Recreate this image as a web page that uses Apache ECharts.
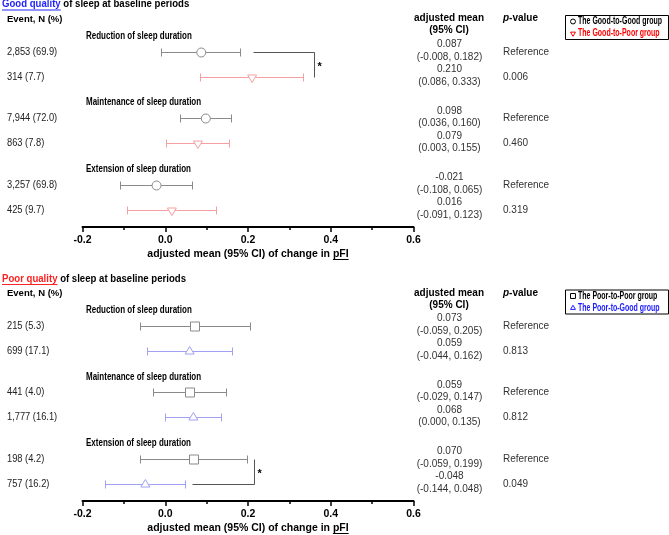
<!DOCTYPE html>
<html><head><meta charset="utf-8">
<script src="https://cdn.jsdelivr.net/npm/echarts@6/dist/echarts.min.js"></script>
<style>html,body{margin:0;padding:0;background:#fff}#c{width:669px;height:535px}</style>
</head><body><div id="c"></div>
<script>
// ---------- data ----------
const sections = ['Reduction of sleep duration', 'Maintenance of sleep duration', 'Extension of sleep duration'];
const xTicks = [-0.2, 0.0, 0.2, 0.4, 0.6];
const axisTitle = ['adjusted mean (95% CI) of change in ', 'pFI'];
const colHeaders = ['Event, N (%)', 'adjusted mean', '(95% CI)', 'p', '-value'];

const goodTitle = ['Good quality', ' of sleep at baseline periods'];
const goodGroups = ['The Good-to-Good group', 'The Good-to-Poor group'];
const goodEvents = ['2,853 (69.9)', '314 (7.7)', '7,944 (72.0)', '863 (7.8)', '3,257 (69.8)', '425 (9.7)'];
const goodMean = [0.087, 0.210, 0.098, 0.079, -0.021, 0.016];
const goodLow = [-0.008, 0.086, 0.036, 0.003, -0.108, -0.091];
const goodHigh = [0.182, 0.333, 0.160, 0.155, 0.065, 0.123];
const goodP = ['Reference', '0.006', 'Reference', '0.460', 'Reference', '0.319'];
const goodSig = [0, 1, 0.214, 0.361];   // row with horizontal, other row, start x, bracket x

const poorTitle = ['Poor quality', ' of sleep at baseline periods'];
const poorGroups = ['The Poor-to-Poor group', 'The Poor-to-Good group'];
const poorEvents = ['215 (5.3)', '699 (17.1)', '441 (4.0)', '1,777 (16.1)', '198 (4.2)', '757 (16.2)'];
const poorMean = [0.073, 0.059, 0.059, 0.068, 0.070, -0.048];
const poorLow = [-0.059, -0.044, -0.029, 0.000, -0.059, -0.144];
const poorHigh = [0.205, 0.162, 0.147, 0.135, 0.199, 0.048];
const poorP = ['Reference', '0.813', 'Reference', '0.812', 'Reference', '0.049'];
const poorSig = [5, 4, 0.067, 0.216];

// ---------- layout / style ----------
const SANS = "'Liberation Sans', Arial, Helvetica, sans-serif";
const NARROW_SCALE = 0.8;
const OFF = 274.5;
const STEP = 2.66;
function rowY(i) { return Math.floor(i / 2) * STEP + (i % 2); }
function crisp(v) { return Math.round(v - 0.5) + 0.5; }

const panels = [
  { title: goodTitle, titleColor: '#1f1fff', groups: goodGroups, events: goodEvents, mean: goodMean, low: goodLow, high: goodHigh, p: goodP, sig: goodSig,
    shapes: ['circle', 'triDown'], colors: ['#8a8a8a', '#f4a0a0'], legendColors: ['#000000', '#ff0000'] },
  { title: poorTitle, titleColor: '#ff1f1f', groups: poorGroups, events: poorEvents, mean: poorMean, low: poorLow, high: poorHigh, p: poorP, sig: poorSig,
    shapes: ['square', 'triUp'], colors: ['#8a8a8a', '#a0a0f4'], legendColors: ['#000000', '#1a1aff'] }
];

function markerEl(shape, x, y, color, s) {
  s = s || 1;
  const st = { fill: '#fff', stroke: color, lineWidth: 1 };
  if (shape === 'circle') return { type: 'circle', shape: { cx: x, cy: y, r: 4.5 * s }, style: st };
  if (shape === 'square') return { type: 'rect', shape: { x: crisp(x - 4.5 * s), y: y - 4.5 * s, width: 9 * s, height: 9 * s }, style: st };
  if (shape === 'triDown') return { type: 'polygon', shape: { points: [[x - 4.5 * s, y - 2.5 * s], [x + 4.5 * s, y - 2.5 * s], [x, y + 5 * s]] }, style: st };
  return { type: 'polygon', shape: { points: [[x - 4.5 * s, y + 2.5 * s], [x + 4.5 * s, y + 2.5 * s], [x, y - 5 * s]] }, style: st };
}
function groupRender(shape, color) {
  return function (params, api) {
    const yv = api.value(3);
    const c = api.coord([api.value(0), yv]);
    const lo = api.coord([api.value(1), yv]);
    const hi = api.coord([api.value(2), yv]);
    const y = crisp(c[1]);
    const xl = crisp(lo[0]), xh = crisp(hi[0]);
    const ls = { stroke: color, lineWidth: 1 };
    return { type: 'group', children: [
      { type: 'line', shape: { x1: xl, y1: y, x2: xh, y2: y }, style: ls },
      { type: 'line', shape: { x1: xl, y1: y - 4, x2: xl, y2: y + 4 }, style: ls },
      { type: 'line', shape: { x1: xh, y1: y - 4, x2: xh, y2: y + 4 }, style: ls },
      markerEl(shape, c[0], y, color)
    ] };
  };
}

const grids = [], xAxes = [], yAxes = [], series = [], graphics = [];
const ctx = document.createElement('canvas').getContext('2d');
function tw(t, font) { ctx.font = font; return ctx.measureText(t).width; }

panels.forEach((P, pi) => {
  const top = 2 + pi * OFF;
  grids.push({ left: 82.5, width: 331, top: top, height: 225 });
  xAxes.push({
    type: 'value', gridIndex: pi, min: xTicks[0], max: xTicks[xTicks.length - 1], interval: 0.2,
    axisLine: { show: true, onZero: false, lineStyle: { color: '#000', width: 2 } },
    axisTick: { show: true, inside: false, length: 5, lineStyle: { color: '#000', width: 1.5 } },
    minorTick: { show: true, splitNumber: 2, length: 3, lineStyle: { color: '#000', width: 1.5 } },
    splitLine: { show: false }, minorSplitLine: { show: false },
    axisLabel: { margin: 8, color: '#000', fontFamily: SANS, fontWeight: 'bold', fontSize: 10.5, formatter: v => v.toFixed(1) },
    name: axisTitle.join(''), nameLocation: 'middle', nameGap: 22,
    nameTextStyle: { color: '#000', fontFamily: SANS, fontWeight: 'bold', fontSize: 10.5 }
  });
  yAxes.push({ type: 'value', gridIndex: pi, min: -2, max: 7, inverse: true, show: false });

  [0, 1].forEach(g => {
    const data = [];
    P.mean.forEach((m, i) => { if (i % 2 === g) data.push([m, P.low[i], P.high[i], rowY(i)]); });
    series.push({
      type: 'custom', name: P.groups[g], xAxisIndex: pi, yAxisIndex: pi, clip: false,
      encode: { x: [0, 1, 2], y: 3 }, data: data, renderItem: groupRender(P.shapes[g], P.colors[g]),
      itemStyle: { color: P.legendColors[g] }
    });
  });

  // table texts
  series.push({
    type: 'custom', xAxisIndex: pi, yAxisIndex: pi, clip: false, silent: true,
    encode: { x: 0, y: 1 }, data: P.mean.map((m, i) => [0, rowY(i), i]),
    renderItem: function (params, api) {
      const i = api.value(2), yv = api.value(1);
      const y = api.coord([0, yv])[1];
      const x0 = api.coord([xTicks[0], yv])[0];
      const x1 = api.coord([xTicks[xTicks.length - 1], yv])[0];
      return { type: 'group', children: [
        { type: 'text', x: x0 - 75.5, y: y, scaleX: 0.93, style: { text: P.events[i], fill: '#222', font: '10px ' + SANS, align: 'left', verticalAlign: 'middle' } },
        { type: 'text', x: x1 + 36, y: y - 1.5, style: { text: P.mean[i].toFixed(3) + '\n(' + P.low[i].toFixed(3) + ', ' + P.high[i].toFixed(3) + ')', fill: '#333', font: '10px ' + SANS, lineHeight: 12.5, align: 'center', verticalAlign: 'middle' } },
        { type: 'text', x: x1 + 89.5, y: y, style: { text: P.p[i], fill: '#333', font: '10px ' + SANS, align: 'left', verticalAlign: 'middle' } }
      ] };
    }
  });

  // section headers
  series.push({
    type: 'custom', xAxisIndex: pi, yAxisIndex: pi, clip: false, silent: true,
    encode: { x: 0, y: 1 }, data: sections.map((s, si) => [xTicks[0], si * STEP - 0.64, si]),
    renderItem: function (params, api) {
      const c = api.coord([api.value(0), api.value(1)]);
      return { type: 'text', x: c[0] + 3.5, y: c[1], scaleX: NARROW_SCALE, style: { text: sections[api.value(2)], fill: '#000', font: 'bold 10px ' + SANS, align: 'left', verticalAlign: 'middle' } };
    }
  });

  // significance bracket
  series.push({
    type: 'custom', xAxisIndex: pi, yAxisIndex: pi, clip: false, silent: true,
    encode: { x: [2, 3], y: 0 }, data: [[rowY(P.sig[0]), rowY(P.sig[1]), P.sig[2], P.sig[3]]],
    renderItem: function (params, api) {
      const a = api.coord([api.value(2), api.value(0)]);
      const b = api.coord([api.value(3), api.value(1)]);
      const ya = crisp(a[1]), yb = crisp(b[1]), xb = crisp(b[0]);
      return { type: 'group', children: [
        { type: 'polyline', shape: { points: [[crisp(a[0]), ya], [xb, ya], [xb, yb]] }, style: { stroke: '#555', lineWidth: 1, fill: null } },
        { type: 'text', x: xb + 3, y: (ya + yb) / 2 + 2, style: { text: '*', fill: '#000', font: 'bold 11px ' + SANS, align: 'left', verticalAlign: 'middle' } }
      ] };
    }
  });

  // legend box (drawn with graphic elements)
  const lt = 15.5 + pi * OFF;
  graphics.push({ type: 'rect', shape: { x: 565.5, y: lt, width: 103, height: 24 }, style: { fill: '#fff', stroke: '#000', lineWidth: 1 } });
  [0, 1].forEach(g => {
    const iy = lt + 6 + g * 12;
    const m = markerEl(P.shapes[g], 573, iy, P.legendColors[g], 0.55);
    graphics.push(m);
    graphics.push({ type: 'text', x: 578, y: iy, scaleX: 0.7, style: { text: P.groups[g], fill: P.legendColors[g], font: 'bold 10px ' + SANS, verticalAlign: 'middle' } });
  });

  // headers
  const ty = 4.5 + pi * OFF;
  const tFont = 'bold 10px ' + SANS;
  const w0 = tw(P.title[0], tFont);
  graphics.push({ type: 'group', x: 2, y: ty, scaleX: 0.96, children: [
    { type: 'text', x: 0, y: 0, style: { text: P.title[0], fill: P.titleColor, font: tFont, verticalAlign: 'middle' } },
    { type: 'text', x: w0, y: 0, style: { text: P.title[1], fill: '#000', font: tFont, verticalAlign: 'middle' } },
    { type: 'line', shape: { x1: 0, y1: 5.5, x2: w0, y2: 5.5 }, style: { stroke: P.titleColor, lineWidth: 1 } }
  ] });
  const hy = 18.7 + pi * OFF;
  graphics.push({ type: 'text', x: 7, y: hy + 0.5, style: { text: colHeaders[0], fill: '#000', font: 'bold 9.5px ' + SANS, verticalAlign: 'middle' } });
  graphics.push({ type: 'text', x: 449, y: hy, style: { text: colHeaders[1], fill: '#000', font: tFont, align: 'center', verticalAlign: 'middle' } });
  graphics.push({ type: 'text', x: 449, y: hy + 12, style: { text: colHeaders[2], fill: '#000', font: tFont, align: 'center', verticalAlign: 'middle' } });
  const wp = tw(colHeaders[3], 'italic ' + tFont);
  graphics.push({ type: 'text', x: 503, y: hy, style: { text: colHeaders[3], fill: '#000', font: 'italic ' + tFont, verticalAlign: 'middle' } });
  graphics.push({ type: 'text', x: 503 + wp, y: hy, style: { text: colHeaders[4], fill: '#000', font: tFont, verticalAlign: 'middle' } });
  // underline of pFI in axis title
  const nFont = 'bold 10.5px ' + SANS;
  const wAll = tw(axisTitle.join(''), nFont), wPre = tw(axisTitle[0], nFont);
  const cx = 82.5 + 331 / 2;
  const ux = cx - wAll / 2 + wPre;
  const uy = crisp(2 + 225 + 32 + pi * OFF);
  graphics.push({ type: 'line', shape: { x1: ux, y1: uy, x2: ux + tw(axisTitle[1], nFont), y2: uy }, style: { stroke: '#000', lineWidth: 1 } });
});

const chart = echarts.init(document.getElementById('c'));
chart.setOption({
  animation: false,
  backgroundColor: '#fff',
  grid: grids, xAxis: xAxes, yAxis: yAxes, series: series, graphic: graphics
});
</script></body></html>
